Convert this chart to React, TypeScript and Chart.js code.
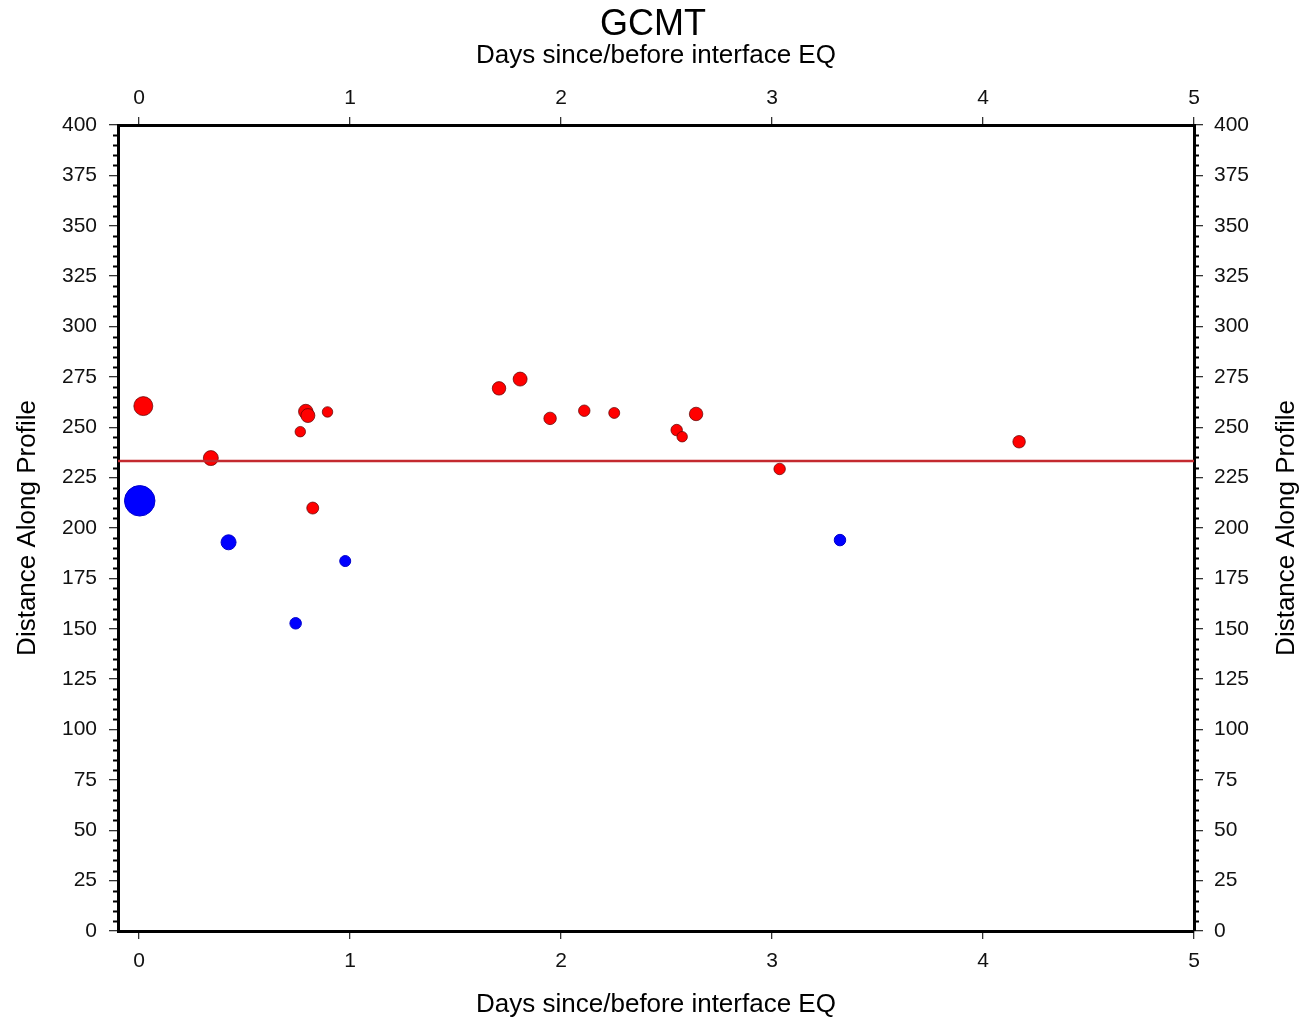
import React, { useEffect, useRef } from "react";
import { Chart, registerables } from "chart.js";

Chart.register(...registerables);

const FONT = "'Liberation Sans', Arial, Helvetica, sans-serif";

// Axis ticks
const xTickValues = [0, 1, 2, 3, 4, 5];
const yTickValues = [0, 25, 50, 75, 100, 125, 150, 175, 200, 225, 250, 275, 300, 325, 350, 375, 400];
const xRange = [-0.1, 5];
const yRange = [0, 400];

// Red events (days, distance along profile, magnitude)
const redDays = [0.02, 0.34, 0.79, 0.80, 0.893, 0.764, 0.823, 1.706, 1.806, 1.948, 2.11, 2.252, 2.548, 2.574, 2.64, 3.036, 4.171];
const redDist = [260.5, 234.7, 257.8, 255.8, 257.6, 247.8, 209.9, 269.3, 273.9, 254.4, 258.2, 257.1, 248.6, 245.3, 256.6, 229.3, 242.8];
const redMag = [5.9, 5.5, 5.45, 5.4, 5.05, 5.05, 5.2, 5.35, 5.4, 5.25, 5.15, 5.1, 5.15, 5.05, 5.35, 5.15, 5.25];

// Blue events
const blueDays = [0.003, 0.424, 0.742, 0.977, 3.322];
const blueDist = [213.5, 192.9, 152.7, 183.6, 194.0];
const blueMag = [7.05, 5.5, 5.15, 5.1, 5.15];

// Reference (interface) line
const refLineDays = [-0.1, 5];
const refLineDist = 233.3;

const radiusFor = (m: number) => 5 * (m - 4);

export default function App() {
  const canvasRef = useRef<HTMLCanvasElement | null>(null);

  useEffect(() => {
    const canvas = canvasRef.current;
    if (!canvas) return;

    const minorTicks = {
      id: "minorTicks",
      afterDraw(chart: any) {
        const { ctx, chartArea } = chart;
        const ys = chart.scales.y;
        ctx.save();
        ctx.strokeStyle = "#000";
        ctx.lineWidth = 2;
        for (let v = yRange[0]; v <= yRange[1]; v += 5) {
          if (v % 25 === 0) continue;
          const py = Math.round(ys.getPixelForValue(v)) + 0.5;
          ctx.beginPath();
          ctx.moveTo(chartArea.left - 5, py);
          ctx.lineTo(chartArea.left, py);
          ctx.moveTo(chartArea.right, py);
          ctx.lineTo(chartArea.right + 5, py);
          ctx.stroke();
        }
        // right-side axis title, reading bottom to top
        ctx.fillStyle = "#000";
        ctx.font = `26px ${FONT}`;
        ctx.textAlign = "center";
        ctx.textBaseline = "middle";
        ctx.translate(chartArea.right + 93, (chartArea.top + chartArea.bottom) / 2);
        ctx.rotate(-Math.PI / 2);
        ctx.fillText("Distance Along Profile", 0, 0);
        ctx.restore();
      },
    };

    const setTicks = (vals: number[]) => (scale: any) => {
      scale.ticks = vals.map((v) => ({ value: v }));
    };

    const tickFont = { family: FONT, size: 21 };
    const titleFont = { family: FONT, size: 26, lineHeight: 1.0 };
    const gridOpts = { drawOnChartArea: false, drawTicks: true, tickLength: 8, color: "#333", lineWidth: 1.3 };
    const borderOpts = { display: true, color: "#000", width: 3 };

    const chart = new Chart(canvas, {
      type: "scatter",
      data: {
        datasets: [
          {
            type: "line",
            label: "interface",
            data: refLineDays.map((d) => ({ x: d, y: refLineDist })),
            borderColor: "#c42a2f",
            borderWidth: 2.5,
            pointRadius: 0,
            showLine: true,
            fill: false,
            order: 0,
          } as any,
          {
            label: "red",
            data: redDays.map((d, i) => ({ x: d, y: redDist[i] })),
            backgroundColor: "#ff0000",
            borderColor: "rgba(90,0,0,0.7)",
            borderWidth: 1,
            pointRadius: redMag.map(radiusFor),
            order: 1,
          },
          {
            label: "blue",
            data: blueDays.map((d, i) => ({ x: d, y: blueDist[i] })),
            backgroundColor: "#0000ff",
            borderColor: "#0000cc",
            borderWidth: 1,
            pointRadius: blueMag.map(radiusFor),
            order: 2,
          },
        ],
      },
      options: {
        responsive: false,
        animation: false,
        devicePixelRatio: 1,
        layout: { padding: 0 },
        plugins: {
          legend: { display: false },
          tooltip: { enabled: false },
          title: {
            display: true,
            text: "GCMT",
            color: "#000",
            font: { family: FONT, size: 36, weight: "normal", lineHeight: 1.0 },
            padding: { top: 7, bottom: 0 },
          },
        },
        scales: {
          x: {
            type: "linear",
            position: "bottom",
            min: xRange[0],
            max: xRange[1],
            afterBuildTicks: setTicks(xTickValues),
            afterFit: (s: any) => { s.height = 90; },
            grid: gridOpts,
            border: borderOpts,
            ticks: { font: tickFont, color: "#111", padding: 10, maxRotation: 0, autoSkip: false },
            title: { display: true, text: "Days since/before interface EQ", color: "#000", font: titleFont, padding: { top: 0, bottom: 3 } },
          },
          x2: {
            type: "linear",
            position: "top",
            min: xRange[0],
            max: xRange[1],
            afterBuildTicks: setTicks(xTickValues),
            afterFit: (s: any) => { s.height = 82; },
            grid: gridOpts,
            border: borderOpts,
            ticks: { font: tickFont, color: "#111", padding: 6, maxRotation: 0, autoSkip: false },
            title: { display: true, text: "Days since/before interface EQ", color: "#000", font: titleFont, padding: { top: 0, bottom: 0 } },
          },
          y: {
            type: "linear",
            position: "left",
            min: yRange[0],
            max: yRange[1],
            afterBuildTicks: setTicks(yTickValues),
            afterFit: (s: any) => { s.width = 118; },
            grid: { ...gridOpts, tickLength: 9 },
            border: borderOpts,
            ticks: { font: tickFont, color: "#111", padding: 12, autoSkip: false },
            title: { display: true, text: "Distance Along Profile", color: "#000", font: titleFont, padding: { top: 15, bottom: 0 } },
          },
          y2: {
            type: "linear",
            position: "right",
            min: yRange[0],
            max: yRange[1],
            afterBuildTicks: setTicks(yTickValues),
            afterFit: (s: any) => { s.width = 112; },
            grid: { ...gridOpts, tickLength: 9 },
            border: borderOpts,
            ticks: { font: tickFont, color: "#111", padding: 11, autoSkip: false },
            title: { display: false },
          },
        },
      } as any,
      plugins: [minorTicks],
    });

    return () => chart.destroy();
  }, []);

  return (
    <div style={{ position: "absolute", left: 0, top: 0, width: 1306, height: 1021, background: "#fff" }}>
      <canvas ref={canvasRef} width={1306} height={1021} />
    </div>
  );
}
